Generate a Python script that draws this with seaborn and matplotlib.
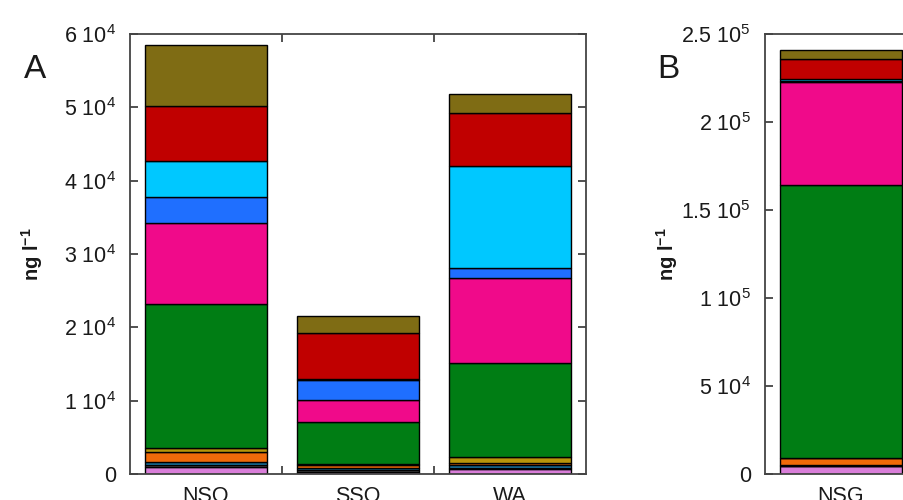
import numpy as np
import pandas as pd
import seaborn as sns
import matplotlib.pyplot as plt

sns.set_style("ticks")
plt.rcParams["font.family"] = ["Liberation Sans", "DejaVu Sans"]
plt.rcParams["mathtext.fontset"] = "custom"
plt.rcParams["mathtext.rm"] = "Liberation Sans"
plt.rcParams["mathtext.default"] = "regular"

# Sites of the two panels
sites_a = ["NSO", "SSO", "WA"]
sites_b = ["NSG"]

# Concentrations (ng l-1) per component, stacked bottom to top
layer_1 = [900, 250, 700, 4700]
layer_2 = [350, 250, 100, 100]
layer_3 = [400, 350, 450, 100]
layer_4 = [1360, 400, 250, 4200]
layer_5 = [590, 100, 800, 100]
layer_6 = [19630, 5750, 12790, 155000]
layer_7 = [10930, 3050, 11600, 58360]
layer_8 = [3670, 2630, 1410, 700]
layer_9 = [4800, 200, 13920, 1200]
layer_10 = [7520, 6260, 7250, 11370]
layer_11 = [8300, 2310, 2590, 5280]

layers = [layer_1, layer_2, layer_3, layer_4, layer_5, layer_6,
          layer_7, layer_8, layer_9, layer_10, layer_11]
colors = ["#d97ed9", "#555555", "#1a7aa8", "#f06a0a", "#b8960a", "#007d14",
          "#f00a8a", "#1f6fff", "#00c8ff", "#c00000", "#7f6c14"]

# Y tick values and labels
yticks_a = [0, 10000, 20000, 30000, 40000, 50000, 60000]
ylabels_a = ["0", "1 10$^{4}$", "2 10$^{4}$", "3 10$^{4}$", "4 10$^{4}$",
             "5 10$^{4}$", "6 10$^{4}$"]
yticks_b = [0, 50000, 100000, 150000, 200000, 250000]
ylabels_b = ["0", "5 10$^{4}$", "1 10$^{5}$", "1.5 10$^{5}$", "2 10$^{5}$",
             "2.5 10$^{5}$"]

sites_all = sites_a + sites_b
df = pd.DataFrame({"site": np.repeat(sites_all, len(layers)),
                   "layer": np.tile(np.arange(len(layers)), len(sites_all)),
                   "value": np.array(layers).T.ravel()})


def stacked(ax, sites):
    sub = df[df["site"].isin(sites)]
    bottom = np.zeros(len(sites))
    for k, col in enumerate(colors):
        vals = sub[sub["layer"] == k].set_index("site").loc[sites, "value"].to_numpy()
        sns.barplot(x=sites, y=vals, bottom=bottom, color=col, saturation=1,
                    width=0.8, edgecolor="black", linewidth=1.0,
                    errorbar=None, order=sites, ax=ax)
        bottom = bottom + vals


def style(ax, sites, yticks, ylabels, ymax):
    ax.set_xlim(-0.5, len(sites) - 0.5)
    ax.set_ylim(0, ymax)
    ax.set_xticks(range(len(sites)))
    ax.set_xticklabels(sites)
    ax.set_xticks([i + 0.5 for i in range(len(sites) - 1)], minor=True)
    ax.tick_params(axis="x", which="major", length=0, pad=9, labelsize=15.5,
                   labelcolor="#1a1a1a")
    ax.tick_params(axis="x", which="minor", direction="in", length=6,
                   width=1.2, top=True, bottom=True, color="#333333")
    ax.set_yticks(yticks)
    ax.set_yticklabels(ylabels)
    ax.tick_params(axis="y", direction="in", length=6, width=1.2, left=True,
                   right=True, pad=10, labelsize=15.5, color="#333333",
                   labelcolor="#1a1a1a")
    ax.set_xlabel("")
    ax.set_ylabel("ng l$^{-1}$", fontsize=14.5, fontweight="bold",
                  color="#1a1a1a")
    for sp in ax.spines.values():
        sp.set_visible(True)
        sp.set_color("#444444")
        sp.set_linewidth(1.3)


fig = plt.figure(figsize=(9.04, 5.0), dpi=100)
ax_a = fig.add_axes([130 / 904, 26 / 500, 456 / 904, 440 / 500])
ax_b = fig.add_axes([765 / 904, 26 / 500, 152 / 904, 440 / 500])

stacked(ax_a, sites_a)
stacked(ax_b, sites_b)
style(ax_a, sites_a, yticks_a, ylabels_a, 60000)
style(ax_b, sites_b, yticks_b, ylabels_b, 250000)
ax_a.yaxis.set_label_coords(-0.186, 0.5)
ax_b.yaxis.set_label_coords(-0.56, 0.5)

fig.text(35 / 904, 1 - 70 / 500, "A", fontsize=24, ha="center", va="center",
         color="#1a1a1a")
fig.text(668 / 904, 1 - 70 / 500, "B", fontsize=24, ha="center", va="center",
         color="#1a1a1a")

fig.savefig("out.png", dpi=100)
